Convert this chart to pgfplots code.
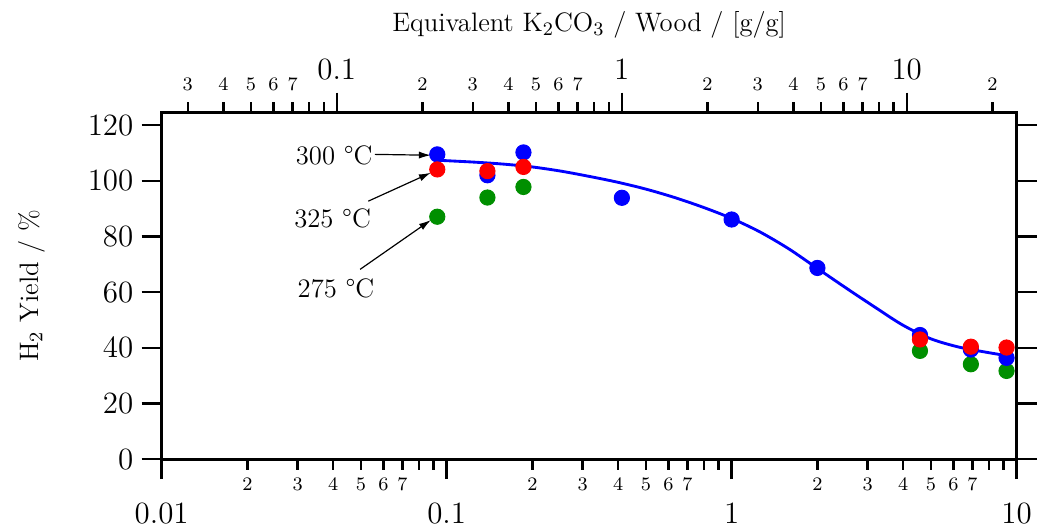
\documentclass[border=0pt]{standalone}
\usepackage{fontspec}
\usepackage{pgfplots}
\pgfplotsset{compat=1.18}
\usetikzlibrary{arrows.meta}
\definecolor{cblue}{rgb}{0,0,1}
\definecolor{cred}{rgb}{1,0,0}
\definecolor{cgreen}{rgb}{0,0.56,0}
\newcommand\mn[1]{{\fontsize{8}{9}\selectfont #1}}
\newcommand\mnt[1]{\raisebox{1.2pt}[\height][\depth]{\fontsize{8}{9}\selectfont #1}}
\newcommand\mjb[1]{\raisebox{-6.3pt}[\height][\depth]{#1}}
\newcommand\mjt[1]{\raisebox{1.9pt}[\height][\depth]{#1}}
\begin{document}
\begin{tikzpicture}
\begin{axis}[name=main,
  scale only axis, width=359pt, height=145.5pt, xmode=log,
  tick align=outside, major tick length=8.4pt, minor tick length=4.4pt,
  every tick/.style={black, line width=1pt},
  axis line style={line width=1.2pt},
  xticklabel style={font=\fontsize{13}{15}\selectfont},
  yticklabel style={font=\fontsize{13}{15}\selectfont},
  label style={font=\fontsize{11.2}{13}\selectfont},
  xmin=0.01, xmax=10, ymin=0, ymax=124.5,
  xtick pos=left, ytick pos=both, yticklabel pos=left,
  xtick={0.01,0.1,1,10}, xticklabels={\mjb{0.01},\mjb{0.1},\mjb{1},\mjb{10}},
  minor xtick={0.08,0.09,0.8,0.9,8,9},
  extra x ticks={0.02,0.03,0.04,0.05,0.06,0.07,0.2,0.3,0.4,0.5,0.6,0.7,2,3,4,5,6,7},
  extra x tick labels={\mn{2},\mn{3},\mn{4},\mn{5},\mn{6},\mn{7},\mn{2},\mn{3},\mn{4},\mn{5},\mn{6},\mn{7},\mn{2},\mn{3},\mn{4},\mn{5},\mn{6},\mn{7}},
  extra x tick style={major tick length=4.4pt},
  ytick={0,20,40,60,80,100,120},
  yticklabels={0,20,40,60,80,100,120},
  ylabel={H$_2$ Yield / \%},
  ylabel style={at={(axis description cs:-0.152,0.5)}, anchor=center},
  clip=false,
]
\addplot[cblue, line width=1.2pt, smooth, no marks] coordinates {
(0.0927,107.4) (0.1259,106.7) (0.1585,106.0) (0.1995,105.0) (0.2512,103.5)
(0.3162,101.6) (0.3981,99.5) (0.5012,97.0) (0.6310,94.0) (0.7943,90.5)
(1.0,86.5) (1.259,81.6) (1.585,75.6) (1.995,68.6) (2.512,61.6) (3.162,54.8)
(3.981,48.2) (5.012,43.2) (6.310,40.2) (7.943,38.3) (9.22,37.2)
};
\addplot[only marks, mark=*, mark size=3.2pt, cgreen, mark options={draw=cgreen, fill=cgreen}] coordinates {
(0.0927,87.1) (0.139,94.0) (0.186,97.8) (4.58,38.9) (6.91,34.1) (9.22,31.7)
};
\addplot[only marks, mark=*, mark size=3.2pt, cblue, mark options={draw=cblue, fill=cblue}] coordinates {
(0.0927,109.5) (0.139,102.0) (0.186,110.2) (0.412,93.9) (1.0,86.1) (2.0,68.7) (4.58,44.6) (6.91,39.4) (9.22,36.4)
};
\addplot[only marks, mark=*, mark size=3.2pt, cred, mark options={draw=cred, fill=cred}] coordinates {
(0.0927,104.1) (0.139,103.5) (0.186,105.0) (4.58,43.0) (6.91,40.4) (9.22,40.1)
};
\node[font=\fontsize{11.2}{13}\selectfont] at (axis cs:0.0403,109.2) {300 °C};
\node[font=\fontsize{11.2}{13}\selectfont] at (axis cs:0.0398,86.5) {325 °C};
\node[font=\fontsize{11.2}{13}\selectfont] at (axis cs:0.0409,61.5) {275 °C};
\draw[-{Latex[length=5pt,width=3pt]}, line width=0.5pt] (axis cs:0.056,109.5) -- (axis cs:0.0880,109.2);
\draw[-{Latex[length=5pt,width=3pt]}, line width=0.5pt] (axis cs:0.0531,92.7) -- (axis cs:0.0880,102.9);
\draw[-{Latex[length=5pt,width=3pt]}, line width=0.5pt] (axis cs:0.0497,68.2) -- (axis cs:0.0880,85.9);
\end{axis}
\begin{axis}[
  scale only axis, width=359pt, height=145.5pt, xmode=log,
  tick align=outside, major tick length=8.4pt, minor tick length=4.4pt,
  every tick/.style={black, line width=1pt},
  axis line style={line width=1.2pt},
  xticklabel style={font=\fontsize{13}{15}\selectfont},
  label style={font=\fontsize{11.2}{13}\selectfont},
  xmin=0.0243, xmax=24.3, ymin=0, ymax=1,
  axis x line*=top, axis y line=none, xtick pos=right, xticklabel pos=right,
  xtick={0.1,1,10}, xticklabels={\mjt{0.1},\mjt{1},\mjt{10}},
  minor xtick={0.08,0.09,0.8,0.9,8,9},
  extra x ticks={0.03,0.04,0.05,0.06,0.07,0.2,0.3,0.4,0.5,0.6,0.7,2,3,4,5,6,7,20},
  extra x tick labels={\mnt{3},\mnt{4},\mnt{5},\mnt{6},\mnt{7},\mnt{2},\mnt{3},\mnt{4},\mnt{5},\mnt{6},\mnt{7},\mnt{2},\mnt{3},\mnt{4},\mnt{5},\mnt{6},\mnt{7},\mnt{2}},
  extra x tick style={major tick length=4.4pt},
  xlabel={Equivalent K$_2$CO$_3$ / Wood / [g/g]},
  xlabel style={at={(axis description cs:0.5,1)}, anchor=center, yshift=37pt},
]
\end{axis}
\pgfresetboundingbox
\path ([xshift=-67.9pt,yshift=-27.7pt]main.south west) rectangle ([xshift=11.5pt,yshift=47.3pt]main.north east);
\end{tikzpicture}
\end{document}
